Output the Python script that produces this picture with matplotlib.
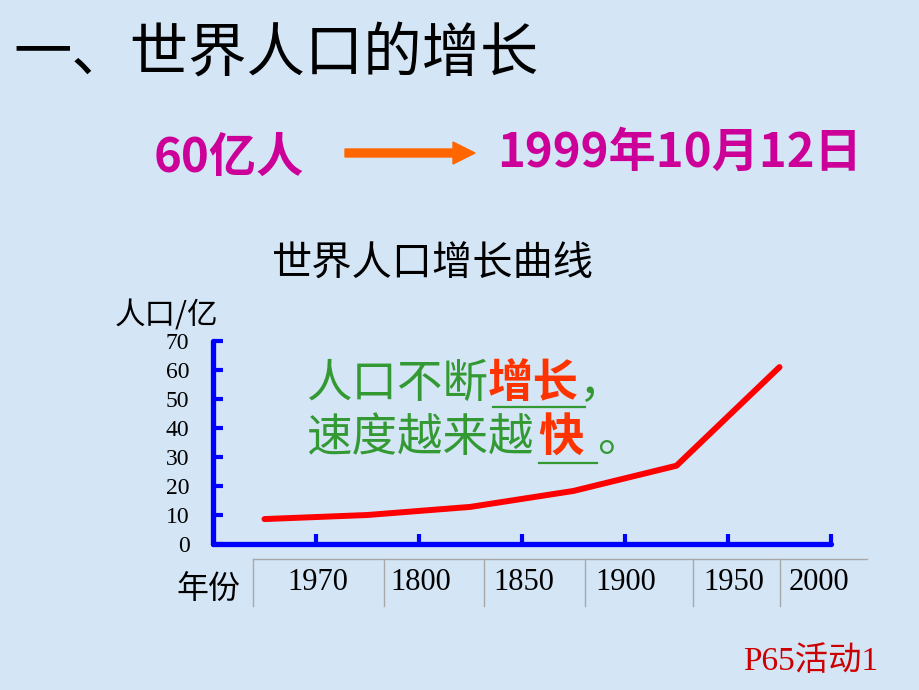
import matplotlib
matplotlib.use("Agg")
import matplotlib.pyplot as plt
import matplotlib.patches as mpatches

plt.rcParams['font.family'] = ['Noto Sans CJK SC', 'DejaVu Sans']

# ---- data ----
year_labels = ["1970", "1800", "1850", "1900", "1950", "2000"]
y_ticks = [0, 10, 20, 30, 40, 50, 60, 70]
x_ticks = [1, 2, 3, 4, 5, 6]
curve_x = [0.5, 1.5, 2.5, 3.5, 4.5, 5.5]
population = [8.6, 10.0, 12.8, 18.3, 27.0, 61.0]

title_main = "一、世界人口的增长"
chart_title = "世界人口增长曲线"
y_label = "人口/亿"
x_label = "年份"
note = "P65活动1"

W, H = 920, 690
BG = "#D4E5F6"
BLUE = "#0000FF"
GREEN = "#339933"
RED_TXT = "#FF3300"
MAGENTA = "#CC0099"
ORANGE = "#FF6600"

fig = plt.figure(figsize=(W / 100, H / 100), dpi=100)
fig.patch.set_facecolor(BG)


def fx(x):
    return x / W


def fy(y):
    return 1 - y / H


# ---- header texts ----
fig.text(fx(13), fy(55), title_main, fontsize=42, color="black",
         fontweight="light", ha="left", va="center")
fig.text(fx(154), fy(158), "60亿人", fontsize=34, color=MAGENTA,
         fontweight="bold", ha="left", va="center")
fig.text(fx(497), fy(153), "1999年10月12日", fontsize=34, color=MAGENTA,
         fontweight="bold", ha="left", va="center")
arrow = mpatches.FancyArrow(fx(345), fy(153), fx(130), 0,
                            width=8 / H, head_width=22 / H, head_length=22 / W,
                            length_includes_head=True, color=ORANGE,
                            transform=fig.transFigure)
fig.patches.append(arrow)

fig.text(fx(433), fy(263), chart_title, fontsize=29, color="black",
         fontweight="light", ha="center", va="center")
fig.text(fx(115), fy(316), y_label, fontsize=22, color="black",
         fontweight="light", ha="left", va="center")
fig.text(fx(176), fy(590), x_label, fontsize=23, color="black",
         fontweight="light", ha="left", va="center")
fig.text(fx(743), fy(662), note, fontsize=24, color="#CC0000",
         family=["Liberation Serif", "Noto Sans CJK SC"],
         ha="left", va="center")

# ---- axes ----
ax = fig.add_axes([fx(213), fy(544), fx(831) - fx(213), (544 - 341) / H])
ax.patch.set_alpha(0)
ax.set_xlim(0, 6)
ax.set_ylim(0, 70)
for s in ["top", "right"]:
    ax.spines[s].set_visible(False)
for s in ["left", "bottom"]:
    ax.spines[s].set_color(BLUE)
    ax.spines[s].set_linewidth(3.8)
    ax.spines[s].set_capstyle("round")
ax.set_yticks(y_ticks)
ax.set_yticklabels([str(v) for v in y_ticks])
ax.set_xticks(x_ticks)
ax.set_xticklabels([])
ax.tick_params(axis="both", direction="in", length=7, width=3, color=BLUE)
ax.tick_params(axis="y", pad=17, labelsize=17)
for lab in ax.get_yticklabels():
    lab.set_fontfamily("Liberation Serif")

ax.plot(curve_x, population, color="#FF0000", lw=4.3,
        solid_capstyle="round", solid_joinstyle="round")

# ---- year table below the axis ----
grid_color = "#A8A8A8"
col_edges = [253, 384, 484, 585, 693, 780]
fig.add_artist(plt.Line2D([fx(253), fx(867)], [fy(559), fy(559)],
                          color=grid_color, lw=1, transform=fig.transFigure))
for xe in col_edges:
    fig.add_artist(plt.Line2D([fx(xe), fx(xe)], [fy(559), fy(606)],
                              color=grid_color, lw=1, transform=fig.transFigure))
label_centers = [318, 421, 524, 626, 734, 819]
for xc, lab in zip(label_centers, year_labels):
    fig.text(fx(xc), fy(583), lab, fontsize=22, family="Liberation Serif",
             color="black", ha="center", va="center")

# ---- annotation inside the chart ----
em = 45.5
fs = em * 0.72
x0 = 306
fig.text(fx(x0), fy(384), "人口不断", fontsize=fs, color=GREEN,
         ha="left", va="center")
fig.text(fx(x0 + 4 * em), fy(384), "增长", fontsize=fs, color=RED_TXT,
         fontweight="bold", ha="left", va="center")
fig.text(fx(x0 + 6 * em), fy(384), "，", fontsize=fs, color=GREEN,
         ha="left", va="center")
fig.text(fx(x0), fy(438), "速度越来越", fontsize=fs, color=GREEN,
         ha="left", va="center")
fig.text(fx(538), fy(438), "快", fontsize=fs, color=RED_TXT,
         fontweight="bold", ha="left", va="center")
fig.text(fx(597), fy(438), "。", fontsize=fs, color=GREEN,
         ha="left", va="center")
fig.add_artist(plt.Line2D([fx(493), fx(585)], [fy(407), fy(407)],
                          color=GREEN, lw=1.6, transform=fig.transFigure))
fig.add_artist(plt.Line2D([fx(539), fx(597)], [fy(463), fy(463)],
                          color=GREEN, lw=1.6, transform=fig.transFigure))

fig.savefig("out.png", dpi=100, facecolor=BG)
